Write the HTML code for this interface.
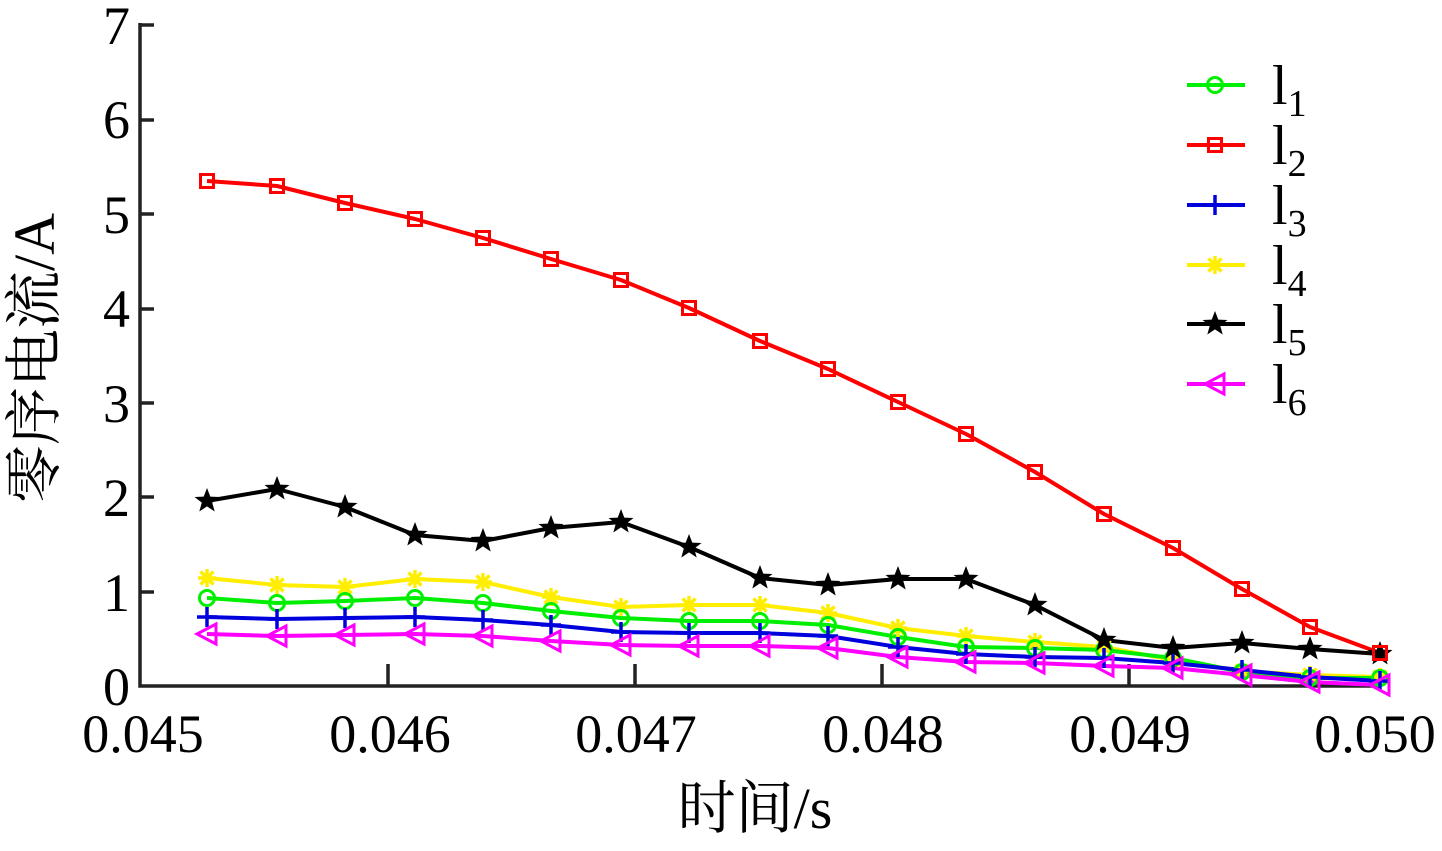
<!DOCTYPE html>
<html><head><meta charset="utf-8"><style>body{margin:0;background:#fff}svg text{font-family:"Liberation Serif","Noto Serif CJK SC",serif;fill:#000}</style></head><body>
<svg width="1442" height="846" viewBox="0 0 1442 846" xmlns="http://www.w3.org/2000/svg">
<defs>
<g id="m1"><circle r="7.5" fill="none" stroke="#00ee00" stroke-width="3"/></g>
<g id="m2"><rect x="-6.5" y="-6.5" width="13" height="13" fill="none" stroke="#ff0000" stroke-width="3"/></g>
<g id="m3"><path d="M-10 0H10M0 -10V10" stroke="#0000dd" stroke-width="3.5"/></g>
<g id="m4"><path d="M-9 0H9M0 -9V9M-6.5 -6.5L6.5 6.5M-6.5 6.5L6.5 -6.5" stroke="#ffee00" stroke-width="3.5"/></g>
<g id="m5"><path d="M0,-13 L3.3,-4.4 L12.5,-4 L5.2,1.6 L7.7,10.5 L0,5.4 L-7.7,10.5 L-5.2,1.6 L-12.5,-4 L-3.3,-4.4Z" fill="#000"/></g>
<g id="m6"><path d="M-10 0 L9 -10 L9 10Z" fill="none" stroke="#ff00ff" stroke-width="3"/></g>
</defs>
<g stroke="#222" stroke-width="3.5" fill="none">
<path d="M140 23V686H1380"/>
<path d="M140 592h14M140 497h14M140 403h14M140 309h14M140 214h14M140 120h14M140 25h14"/>
<path d="M388 686v-22M635 686v-22M882 686v-22M1129 686v-22"/>
</g>
<g font-size="54" text-anchor="end">
<text x="130" y="705">0</text><text x="130" y="611">1</text><text x="130" y="516">2</text><text x="130" y="422">3</text><text x="130" y="327">4</text><text x="130" y="233">5</text><text x="130" y="138">6</text><text x="130" y="44">7</text>
</g>
<g font-size="54" text-anchor="middle">
<text x="143" y="752">0.045</text><text x="390" y="752">0.046</text><text x="636" y="752">0.047</text><text x="883" y="752">0.048</text><text x="1130" y="752">0.049</text><text x="1375" y="752">0.050</text>
</g>
<g font-size="58" text-anchor="middle">
<text x="755" y="828">时间/s</text>
<text transform="translate(54,358) rotate(-90)">零序电流/A</text>
</g>
<g fill="none" stroke-width="4" stroke-linejoin="round">
<polyline id="p4" stroke="#ffee00" points="207,578 277,585 345,587 415,579 483,582 551,597 621,607 689,605 760,605 828,613 898,628 966,636 1035,642 1104,647 1173,660 1242,671 1310,675 1380,677"/>
<polyline id="p1" stroke="#00ee00" points="207,598 277,603 345,601 415,598 483,603 551,611 621,618 689,621 760,621 828,625 898,637 966,647 1035,648 1104,650 1173,658 1242,672 1310,678 1380,678"/>
<polyline id="p3" stroke="#0000dd" points="207,617 277,619 345,618 415,617 483,620 551,625 621,632 689,633 760,633 828,636 898,647 966,654 1035,657 1104,658 1173,663 1242,670 1310,677 1380,681"/>
<polyline id="p6" stroke="#ff00ff" points="207,634 277,636 345,635 415,634 483,636 551,641 621,645 689,646 760,646 828,648 898,657 966,662 1035,663 1104,666 1173,668 1242,675 1310,682 1380,685"/>
<polyline id="p5" stroke="#000" points="207,501 277,489 345,507 415,535 483,541 551,528 621,522 689,547 760,578 828,585 898,579 966,579 1035,605 1104,640 1173,648 1242,643 1310,649 1380,654"/>
<polyline id="p2" stroke="#ff0000" points="207,181 277,186 345,203 415,219 483,238 551,259 621,280 689,308 760,341 828,369 898,402 966,434 1035,472 1104,514 1173,548 1242,589 1310,627 1380,653"/>
</g>
<g id="marks"></g>
<g stroke-width="4">
<line x1="1187" y1="85" x2="1245" y2="85" stroke="#00ee00"/>
<line x1="1187" y1="145" x2="1245" y2="145" stroke="#ff0000"/>
<line x1="1187" y1="205" x2="1245" y2="205" stroke="#0000dd"/>
<line x1="1187" y1="265" x2="1245" y2="265" stroke="#ffee00"/>
<line x1="1187" y1="324" x2="1245" y2="324" stroke="#000"/>
<line x1="1187" y1="384" x2="1245" y2="384" stroke="#ff00ff"/>
</g>
<use href="#m1" x="1215" y="85"/><use href="#m2" x="1215" y="145"/><use href="#m3" x="1215" y="205"/><use href="#m4" x="1215" y="265"/><use href="#m5" x="1215" y="324"/><use href="#m6" x="1215" y="384"/>
<g font-size="56">
<text x="1272" y="104">l<tspan font-size="38" dy="12">1</tspan></text>
<text x="1272" y="164">l<tspan font-size="38" dy="12">2</tspan></text>
<text x="1272" y="224">l<tspan font-size="38" dy="12">3</tspan></text>
<text x="1272" y="284">l<tspan font-size="38" dy="12">4</tspan></text>
<text x="1272" y="343">l<tspan font-size="38" dy="12">5</tspan></text>
<text x="1272" y="403">l<tspan font-size="38" dy="12">6</tspan></text>
</g>
<script>
(function(){var ns="http://www.w3.org/2000/svg",g=document.getElementById("marks");
[["p4","m4"],["p1","m1"],["p3","m3"],["p6","m6"],["p5","m5"],["p2","m2"]].forEach(function(a){
var pts=document.getElementById(a[0]).getAttribute("points").trim().split(/\s+/);
pts.forEach(function(p){var c=p.split(",");var u=document.createElementNS(ns,"use");u.setAttribute("href","#"+a[1]);u.setAttribute("x",c[0]);u.setAttribute("y",c[1]);g.appendChild(u);});});})();
</script>
</svg>
</body></html>
